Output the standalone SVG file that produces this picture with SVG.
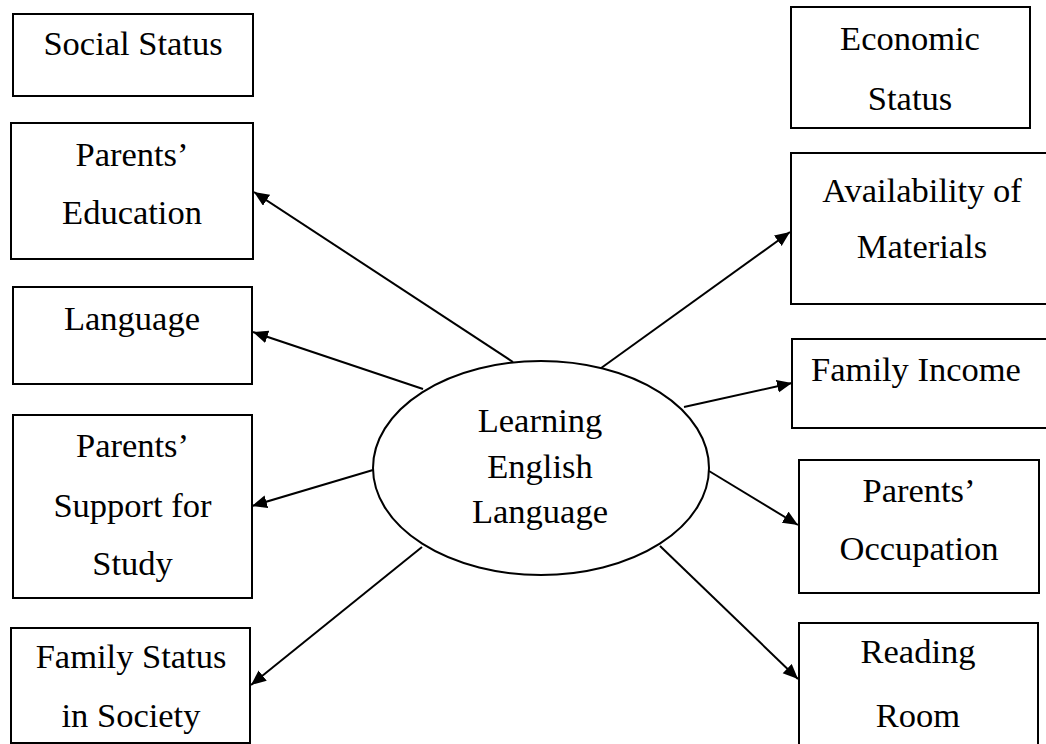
<svg xmlns="http://www.w3.org/2000/svg" width="1046" height="744" viewBox="0 0 1046 744">
<style>
rect.box{fill:#fff;stroke:#000;stroke-width:2}
ellipse.hub{fill:#fff;stroke:#000;stroke-width:2}
text{font-family:"Liberation Serif","Times New Roman",serif;font-size:34.5px;fill:#000;text-anchor:middle}
#connectors line{stroke:#000;stroke-width:2;marker-end:url(#ah)}
</style>
<defs>
<marker id="ah" markerWidth="16" markerHeight="14" refX="15" refY="6.5" orient="auto" markerUnits="userSpaceOnUse">
<path d="M0,0 L15,6.5 L0,13 z" fill="#000"/>
</marker>
</defs>
<rect width="1046" height="744" fill="#fff"/>
<g id="n-social-status"><rect class="box" x="13" y="14" width="240" height="82"/><text x="133" y="55">Social Status</text></g>
<g id="n-parents-education"><rect class="box" x="11" y="123" width="242" height="136"/><text x="132" y="166">Parents’</text><text x="132" y="224">Education</text></g>
<g id="n-language"><rect class="box" x="13" y="287" width="239" height="97"/><text x="132" y="330">Language</text></g>
<g id="n-parents-support"><rect class="box" x="13" y="415" width="239" height="183"/><text x="132.5" y="457">Parents’</text><text x="132.5" y="517">Support for</text><text x="132.5" y="575">Study</text></g>
<g id="n-family-status"><rect class="box" x="11" y="628" width="239" height="115"/><text x="131" y="668">Family Status</text><text x="131" y="727">in Society</text></g>
<g id="n-economic-status"><rect class="box" x="791" y="7" width="239" height="121"/><text x="910" y="50">Economic</text><text x="910" y="110">Status</text></g>
<g id="n-availability"><rect class="box" x="791" y="153" width="270" height="151"/><text x="922" y="202">Availability of</text><text x="922" y="258">Materials</text></g>
<g id="n-family-income"><rect class="box" x="792" y="339" width="270" height="89"/><text x="916" y="381">Family Income</text></g>
<g id="n-parents-occupation"><rect class="box" x="799" y="460" width="240" height="133"/><text x="919" y="502">Parents’</text><text x="919" y="560">Occupation</text></g>
<g id="n-reading-room"><rect class="box" x="799" y="623" width="239" height="130"/><text x="918" y="663">Reading</text><text x="918" y="727">Room</text></g>
<g id="connectors">
<line x1="513" y1="362" x2="254" y2="192"/>
<line x1="423" y1="389" x2="253" y2="332"/>
<line x1="373" y1="470" x2="252" y2="506"/>
<line x1="422" y1="547" x2="251" y2="685"/>
<line x1="597" y1="371" x2="790" y2="232"/>
<line x1="684" y1="407" x2="792" y2="383"/>
<line x1="709" y1="471" x2="798" y2="525"/>
<line x1="660" y1="546" x2="798" y2="679"/>
</g>
<g id="n-learning-english">
<ellipse class="hub" cx="541" cy="468" rx="168" ry="107"/>
<text x="540" y="432">Learning</text>
<text x="540" y="478">English</text>
<text x="540" y="523">Language</text>
</g>
</svg>
